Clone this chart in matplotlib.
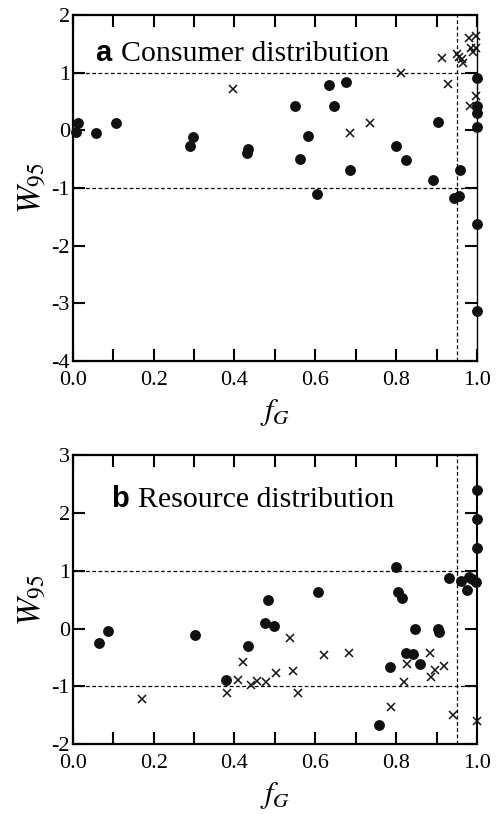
import matplotlib
matplotlib.use("Agg")
import matplotlib.pyplot as plt
from matplotlib.ticker import MultipleLocator

# panel a: consumer distribution
a_dot_x = [0.008, 0.012, 0.058, 0.106, 0.29, 0.298, 0.43, 0.434, 0.55, 0.562,
           0.582, 0.603, 0.634, 0.646, 0.675, 0.687, 0.80, 0.824, 0.89, 0.903,
           0.942, 0.955, 0.958, 1.0, 1.0, 1.0, 1.0, 1.0, 1.0]
a_dot_y = [-0.03, 0.12, -0.04, 0.13, -0.27, -0.11, -0.40, -0.32, 0.42, -0.49,
           -0.10, -1.11, 0.79, 0.43, 0.83, -0.69, -0.27, -0.51, -0.87, 0.14,
           -1.17, -1.14, -0.68, 0.91, 0.43, 0.30, 0.06, -1.63, -3.13]
a_cross_x = [0.397, 0.685, 0.736, 0.813, 0.914, 0.928, 0.95, 0.955, 0.962,
             0.965, 0.98, 0.998, 0.985, 0.998, 0.99, 0.982, 0.998]
a_cross_y = [0.71, -0.04, 0.13, 1.0, 1.26, 0.80, 1.32, 1.27, 1.24,
             1.17, 1.60, 1.63, 1.42, 1.42, 1.36, 0.42, 0.60]

# panel b: resource distribution
b_dot_x = [0.065, 0.088, 0.303, 0.379, 0.434, 0.475, 0.483, 0.498, 0.607,
           0.758, 0.786, 0.80, 0.805, 0.815, 0.824, 0.842, 0.846, 0.858,
           0.903, 0.906, 0.931, 0.96, 0.975, 0.98, 0.988, 0.998,
           1.0, 1.0, 1.0]
b_dot_y = [-0.25, -0.04, -0.11, -0.89, -0.30, 0.10, 0.49, 0.04, 0.63,
           -1.67, -0.66, 1.07, 0.63, 0.53, -0.43, -0.44, 0.0, -0.62,
           0.0, -0.06, 0.88, 0.83, 0.66, 0.90, 0.86, 0.81,
           2.39, 1.89, 1.40]
b_cross_x = [0.172, 0.382, 0.408, 0.42, 0.44, 0.455, 0.478, 0.504, 0.537,
             0.544, 0.556, 0.621, 0.683, 0.788, 0.819, 0.827, 0.883, 0.885,
             0.895, 0.918, 0.941, 1.0]
b_cross_y = [-1.22, -1.11, -0.89, -0.58, -0.97, -0.91, -0.92, -0.76, -0.16,
             -0.73, -1.11, -0.46, -0.43, -1.35, -0.92, -0.62, -0.42, -0.84,
             -0.72, -0.65, -1.49, -1.60]

plt.rcParams["font.family"] = ["Liberation Serif", "DejaVu Serif"]
plt.rcParams["mathtext.fontset"] = "stix"
plt.rcParams["axes.unicode_minus"] = False


def style_axes(ax, ylim, label, tx, ty, right_lw=1.5):
    ax.set_xlim(0, 1)
    ax.set_ylim(*ylim)
    # threshold lines
    ax.axhline(1, color="black", ls=(0, (3, 2)), lw=0.9, zorder=1)
    ax.axhline(-1, color="black", ls=(0, (3, 2)), lw=0.9, zorder=1)
    ax.axvline(0.95, color="black", ls=(0, (3, 2)), lw=0.9, zorder=1)
    ax.xaxis.set_minor_locator(MultipleLocator(0.1))
    ax.yaxis.set_major_locator(MultipleLocator(1))
    ax.set_xticks([0, 0.2, 0.4, 0.6, 0.8, 1.0])
    ax.set_xticklabels(["0.0", "0.2", "0.4", "0.6", "0.8", "1.0"])
    ax.tick_params(which="both", direction="in", top=True, right=True,
                   length=8.5, width=1.5, labelsize=16, pad=2)
    ax.tick_params(axis="x", which="both", pad=7)
    for s in ax.spines.values():
        s.set_linewidth(1.6)
    ax.spines["right"].set_linewidth(right_lw)
    ax.set_xlabel("$f_G$", fontsize=22, labelpad=5)
    ax.set_ylabel("$W_{95}$", fontsize=24, labelpad=2)
    ax.text(tx, ty, label[0], fontsize=21, fontweight="bold",
            family="Liberation Sans")
    ax.text(tx + 0.065, ty, label[2:], fontsize=21.5)


fig = plt.figure(figsize=(4.97, 8.14), dpi=100)
ax_a = fig.add_axes([0.1463, 0.5565, 0.8135, 0.4251])
ax_b = fig.add_axes([0.1463, 0.0856, 0.8135, 0.3554])

ax_a.plot(a_dot_x, a_dot_y, "o", color="#111111", ms=6.8, zorder=3, clip_on=False)
ax_a.plot(a_cross_x, a_cross_y, "x", color="#111111", ms=6, mew=1.1, zorder=3,
          clip_on=False)
style_axes(ax_a, (-4, 2), "a Consumer distribution", 0.055, 1.2, right_lw=1.0)

ax_b.plot(b_dot_x, b_dot_y, "o", color="#111111", ms=6.8, zorder=3, clip_on=False)
ax_b.plot(b_cross_x, b_cross_y, "x", color="#111111", ms=6, mew=1.1, zorder=3,
          clip_on=False)
style_axes(ax_b, (-2, 3), "b Resource distribution", 0.096, 2.105)

fig.savefig("out.png", dpi=100)
